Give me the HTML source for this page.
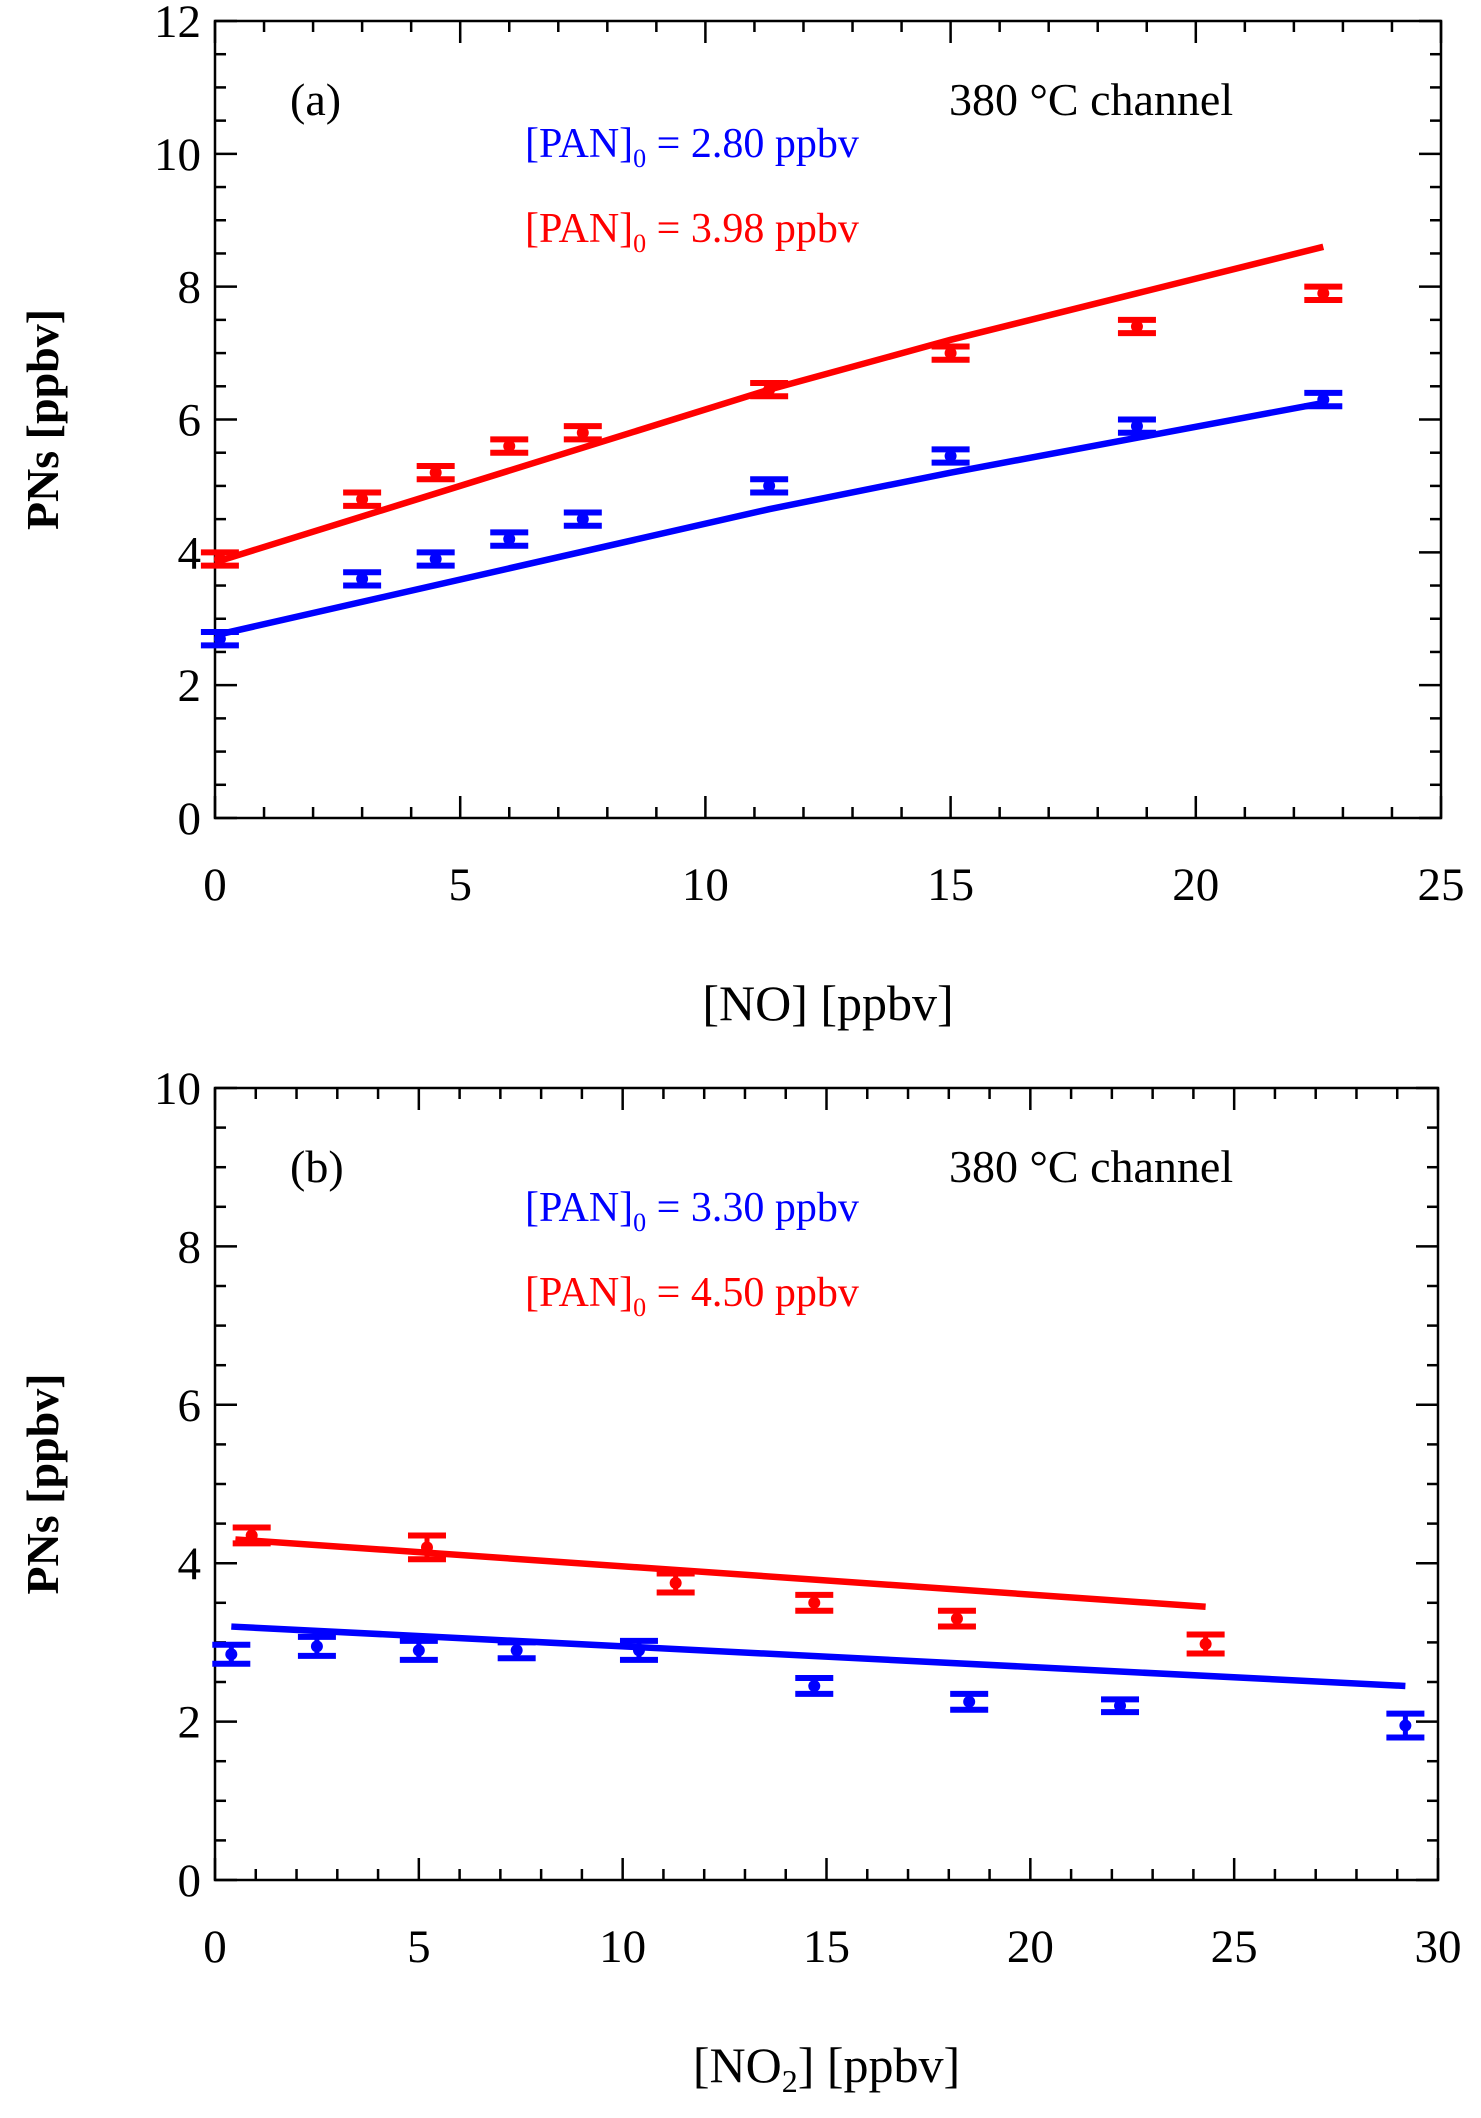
<!DOCTYPE html>
<html><head><meta charset="utf-8"><style>
body{margin:0;background:#fff;}
svg text{font-family:"Liberation Serif",serif;}
</style></head><body>
<svg id="s" width="1481" height="2113" viewBox="0 0 1481 2113" xmlns="http://www.w3.org/2000/svg"></svg>
<script>
// Panel (a) data
const aX = [0.1, 3, 4.5, 6, 7.5, 11.3, 15, 18.8, 22.6];
const aBlue = [2.7, 3.6, 3.9, 4.2, 4.5, 5.0, 5.45, 5.9, 6.3];
const aRed = [3.9, 4.8, 5.2, 5.6, 5.8, 6.45, 7.0, 7.4, 7.9];
const aErr = 0.1;
const aBlueFitX = [0, 11.3, 15, 22.6], aBlueFitY = [2.75, 4.65, 5.2, 6.25];
const aRedFitX = [0, 11.3, 15, 18.8, 22.6], aRedFitY = [3.85, 6.45, 7.2, 7.9, 8.6];
const aXTicks = [0, 5, 10, 15, 20, 25];
const aYTicks = [0, 2, 4, 6, 8, 10, 12];
// Panel (b) data
const bBlueX = [0.4, 2.5, 5, 7.4, 10.4, 14.7, 18.5, 22.2, 29.2];
const bBlue = [2.85, 2.95, 2.9, 2.9, 2.9, 2.45, 2.25, 2.2, 1.95];
const bBlueErr = [0.12, 0.12, 0.12, 0.1, 0.12, 0.1, 0.1, 0.08, 0.15];
const bRedX = [0.9, 5.2, 11.3, 14.7, 18.2, 24.3];
const bRed = [4.35, 4.2, 3.75, 3.5, 3.3, 2.98];
const bRedErr = [0.1, 0.15, 0.12, 0.1, 0.1, 0.12];
const bBlueFitX = [0.4, 29.2], bBlueFitY = [3.2, 2.45];
const bRedFitX = [0.5, 24.3], bRedFitY = [4.3, 3.45];
const bXTicks = [0, 5, 10, 15, 20, 25, 30];
const bYTicks = [0, 2, 4, 6, 8, 10];

const S = document.getElementById('s');
const NS = 'http://www.w3.org/2000/svg';
function el(tag, attrs, parent){const e=document.createElementNS(NS,tag);for(const k in attrs)e.setAttribute(k,attrs[k]);(parent||S).appendChild(e);return e;}

function panel(o){
  const g = el('g',{});
  
  
  const sx = v => o.L + (v - o.x0) / (o.x1 - o.x0) * (o.R - o.L);
  const sy = v => o.B - (v - o.y0) / (o.y1 - o.y0) * (o.B - o.T);
  const frame = el('rect',{x:o.L,y:o.T,width:o.R-o.L,height:o.B-o.T,fill:'none',stroke:'#000','stroke-width':2.5},g);
  
  
  for(let v=o.x0; v<=o.x1+1e-9; v+=o.xMinor){
    const major = Math.abs(v/o.xMajor - Math.round(v/o.xMajor))<1e-6;
    const len = major?22:11, x=sx(v);
    el('line',{x1:x,y1:o.B,x2:x,y2:o.B-len,stroke:'#000','stroke-width':2.5},g);
    el('line',{x1:x,y1:o.T,x2:x,y2:o.T+len,stroke:'#000','stroke-width':2.5},g);
  }
  for(let v=o.y0; v<=o.y1+1e-9; v+=o.yMinor){
    const major = Math.abs(v/o.yMajor - Math.round(v/o.yMajor))<1e-6;
    const len = major?22:11, y=sy(v);
    el('line',{x1:o.L,y1:y,x2:o.L+len,y2:y,stroke:'#000','stroke-width':2.5},g);
    el('line',{x1:o.R,y1:y,x2:o.R-len,y2:y,stroke:'#000','stroke-width':2.5},g);
  }
  o.xTicks.forEach(v=>{
    const t=el('text',{x:sx(v),y:o.B+82,'font-size':47,'text-anchor':'middle'},g);
    t.textContent=v;
    
    
  });
  o.yTicks.forEach(v=>{
    const t=el('text',{x:o.L-14,y:sy(v)+16,'font-size':47,'text-anchor':'end'},g);
    t.textContent=v;
    
    
  });
  function fit(xs, ys, color, name){
    const p = xs.map((xv,i)=>sx(xv)+','+sy(ys[i])).join(' ');
    const l = el('polyline',{points:p,fill:'none',stroke:color,'stroke-width':6.5},g);
    
    
  }
  function pts(xs, ys, errs, color, name){
    xs.forEach((xv,i)=>{
      const e = Array.isArray(errs)?errs[i]:errs;
      const pg = el('g',{},g);
      
      
      const x=sx(xv), yt=sy(ys[i]+e), yb=sy(ys[i]-e);
      el('line',{x1:x,y1:yt,x2:x,y2:yb,stroke:color,'stroke-width':5},pg);
      el('line',{x1:x-19,y1:yt,x2:x+19,y2:yt,stroke:color,'stroke-width':6},pg);
      el('line',{x1:x-19,y1:yb,x2:x+19,y2:yb,stroke:color,'stroke-width':6},pg);
      el('circle',{cx:x,cy:sy(ys[i]),r:6,fill:color},pg);
    });
  }
  o.draw(fit, pts);
  const xt=el('text',{x:(o.L+o.R)/2,y:o.xTitleY,'font-size':50,'text-anchor':'middle'},g);
  xt.innerHTML=o.xTitle;
  
  
  const yt=el('text',{x:0,y:0,'font-size':46,'font-weight':'bold','text-anchor':'middle',transform:`translate(58,${(o.T+o.B)/2}) rotate(-90)`},g);
  yt.textContent='PNs [ppbv]';
  
  
  const pl=el('text',{x:290,y:o.T+94,'font-size':46},g);
  pl.textContent=o.label;
  
  
  const ch=el('text',{x:949,y:o.T+94,'font-size':46},g);
  ch.textContent='380 °C  channel';
  
  
  const bl=el('text',{x:525,y:o.blueY,'font-size':42,fill:'#0000ff'},g);
  bl.innerHTML='[PAN]<tspan font-size="26" dy="10">0</tspan><tspan dy="-10"> = '+o.blueTxt+' ppbv</tspan>';
  
  
  const rl=el('text',{x:525,y:o.redY,'font-size':42,fill:'#ff0000'},g);
  rl.innerHTML='[PAN]<tspan font-size="26" dy="10">0</tspan><tspan dy="-10"> = '+o.redTxt+' ppbv</tspan>';
  
  
}

panel({name:'panel-a',L:215,R:1441,T:21,B:818,x0:0,x1:25,y0:0,y1:12,xMinor:1,xMajor:5,yMinor:0.5,yMajor:2,
  xTicks:aXTicks,yTicks:aYTicks,xTitle:'[NO] [ppbv]',xTitleY:1020,label:'(a)',blueY:157,redY:242,blueTxt:'2.80',redTxt:'3.98',
  draw:(fit,pts)=>{fit(aRedFitX,aRedFitY,'#ff0000','fit-line-red');fit(aBlueFitX,aBlueFitY,'#0000ff','fit-line-blue');
    pts(aX,aRed,aErr,'#ff0000','point-red');pts(aX,aBlue,aErr,'#0000ff','point-blue');}});
panel({name:'panel-b',L:215,R:1438,T:1088,B:1880,x0:0,x1:30,y0:0,y1:10,xMinor:1,xMajor:5,yMinor:0.5,yMajor:2,
  xTicks:bXTicks,yTicks:bYTicks,xTitle:'[NO<tspan font-size="32" dy="10">2</tspan><tspan dy="-10">] [ppbv]</tspan>',xTitleY:2082,label:'(b)',blueY:1221,redY:1306,blueTxt:'3.30',redTxt:'4.50',
  draw:(fit,pts)=>{fit(bRedFitX,bRedFitY,'#ff0000','fit-line-red');fit(bBlueFitX,bBlueFitY,'#0000ff','fit-line-blue');
    pts(bRedX,bRed,bRedErr,'#ff0000','point-red');pts(bBlueX,bBlue,bBlueErr,'#0000ff','point-blue');}});
</script>
</body></html>
